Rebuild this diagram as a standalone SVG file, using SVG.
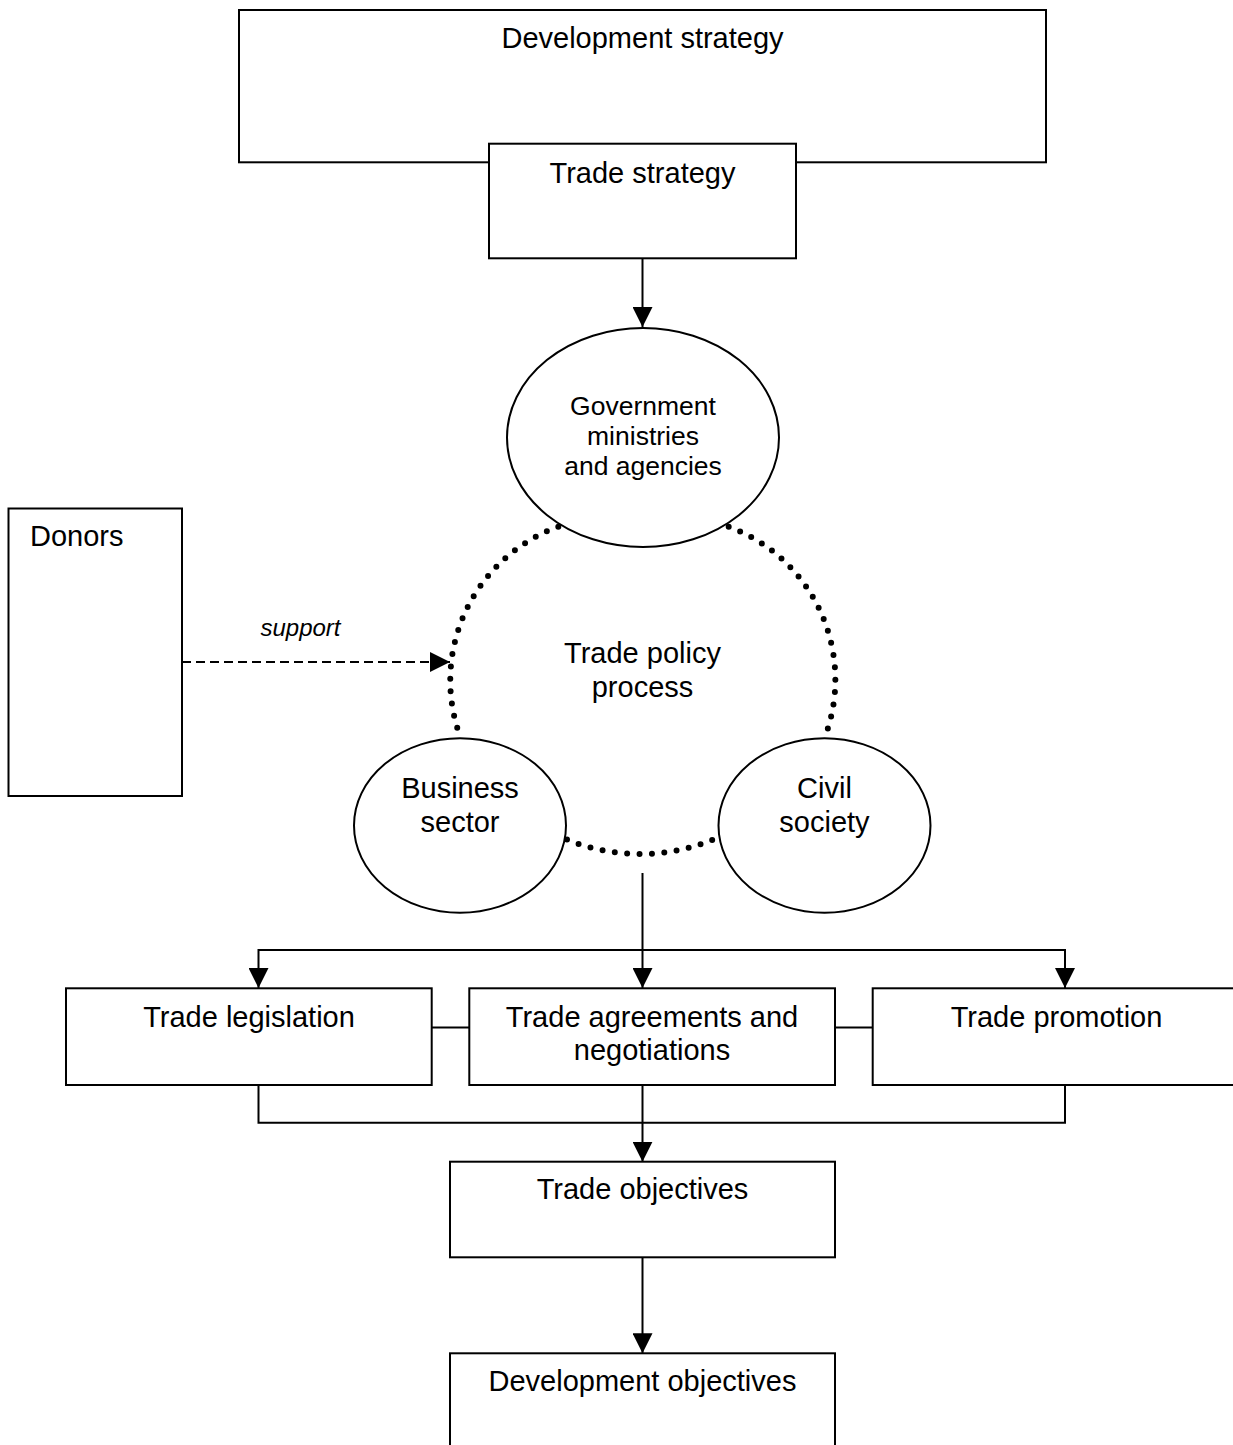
<svg xmlns="http://www.w3.org/2000/svg" width="1233" height="1445" viewBox="0 0 1233 1445">
<style>
.box{fill:#fff;stroke:#000;stroke-width:2}
.ell{fill:#fff;stroke:#000;stroke-width:2}
.t{font-family:"Liberation Sans",Arial,sans-serif;font-size:29px;fill:#000;text-anchor:middle}
.ts{font-size:26.5px}
.ln{fill:none;stroke:#000;stroke-width:2}
.dot{fill:none;stroke:#000;stroke-width:6;stroke-linecap:round;stroke-dasharray:0 12.4}
</style>
<defs>
<marker id="ah" markerUnits="userSpaceOnUse" markerWidth="20" markerHeight="20" refX="20" refY="10" orient="auto">
<path d="M0,0 L20,10 L0,20 z" fill="#000" stroke="none"/>
</marker>
</defs>
<rect width="1233" height="1445" fill="#fff"/>
<g id="connectors">
<path class="ln" d="M642.5,258 V327" marker-end="url(#ah)"/>
<path class="ln" d="M182,662 H450" stroke-dasharray="9 5" marker-end="url(#ah)"/>
<path class="dot" d="M558.3,526.7 A163.5,163.5 0 0 0 460.7,738"/>
<path class="dot" d="M728.7,526.7 A163,163 0 0 1 825.3,736"/>
<path class="dot" d="M567,839.6 A192,192 0 0 0 713,839.6"/>
<path class="ln" d="M642.5,873 V988" marker-end="url(#ah)"/>
<path class="ln" d="M642.5,950 H258.5 V988" marker-end="url(#ah)"/>
<path class="ln" d="M642.5,950 H1065 V988" marker-end="url(#ah)"/>
<path class="ln" d="M432,1027.5 H469.5 M835,1027.5 H873"/>
<path class="ln" d="M258.5,1085 V1122.7 H1065 V1085"/>
<path class="ln" d="M642.5,1085 V1161.7" marker-end="url(#ah)"/>
<path class="ln" d="M642.5,1257 V1353.3" marker-end="url(#ah)"/>
</g>
<g id="development-strategy">
<rect class="box" x="239" y="10" width="807" height="152.3"/>
<text class="t" x="642.5" y="47.7">Development strategy</text>
</g>
<g id="trade-strategy">
<rect class="box" x="489" y="143.7" width="307" height="114.6"/>
<text class="t" x="642.5" y="182.5">Trade strategy</text>
</g>
<g id="government">
<ellipse class="ell" cx="643" cy="437.5" rx="136" ry="109.5"/>
<text class="t ts" x="643" y="415">Government</text>
<text class="t ts" x="643" y="445">ministries</text>
<text class="t ts" x="643" y="475">and agencies</text>
</g>
<g id="donors">
<rect class="box" x="8.5" y="508.5" width="173.5" height="287.5"/>
<text class="t" x="30" y="545.7" style="text-anchor:start">Donors</text>
</g>
<g id="support-label">
<text class="t" x="300.5" y="635.7" style="font-size:24px;font-style:italic">support</text>
</g>
<g id="trade-policy-process">
<text class="t" x="642.5" y="662.7">Trade policy</text>
<text class="t" x="642.5" y="696.7">process</text>
</g>
<g id="business">
<ellipse class="ell" cx="460" cy="825.5" rx="106" ry="87.2"/>
<text class="t" x="460" y="798.3">Business</text>
<text class="t" x="460" y="831.7">sector</text>
</g>
<g id="civil">
<ellipse class="ell" cx="824.5" cy="825.5" rx="106" ry="87.2"/>
<text class="t" x="824.5" y="798.3">Civil</text>
<text class="t" x="824.5" y="831.7">society</text>
</g>
<g id="trade-legislation">
<rect class="box" x="66" y="988.3" width="365.7" height="96.7"/>
<text class="t" x="249" y="1027.3">Trade legislation</text>
</g>
<g id="trade-agreements">
<rect class="box" x="469.3" y="988.3" width="365.7" height="96.7"/>
<text class="t" x="652" y="1027.3">Trade agreements and</text>
<text class="t" x="652" y="1060.3">negotiations</text>
</g>
<g id="trade-promotion">
<rect class="box" x="872.7" y="988.3" width="367" height="96.7"/>
<text class="t" x="1056.5" y="1027.3">Trade promotion</text>
</g>
<g id="trade-objectives">
<rect class="box" x="450" y="1161.7" width="385" height="95.6"/>
<text class="t" x="642.5" y="1199">Trade objectives</text>
</g>
<g id="development-objectives">
<rect class="box" x="450" y="1353.3" width="385" height="110"/>
<text class="t" x="642.5" y="1390.7">Development objectives</text>
</g>
</svg>
